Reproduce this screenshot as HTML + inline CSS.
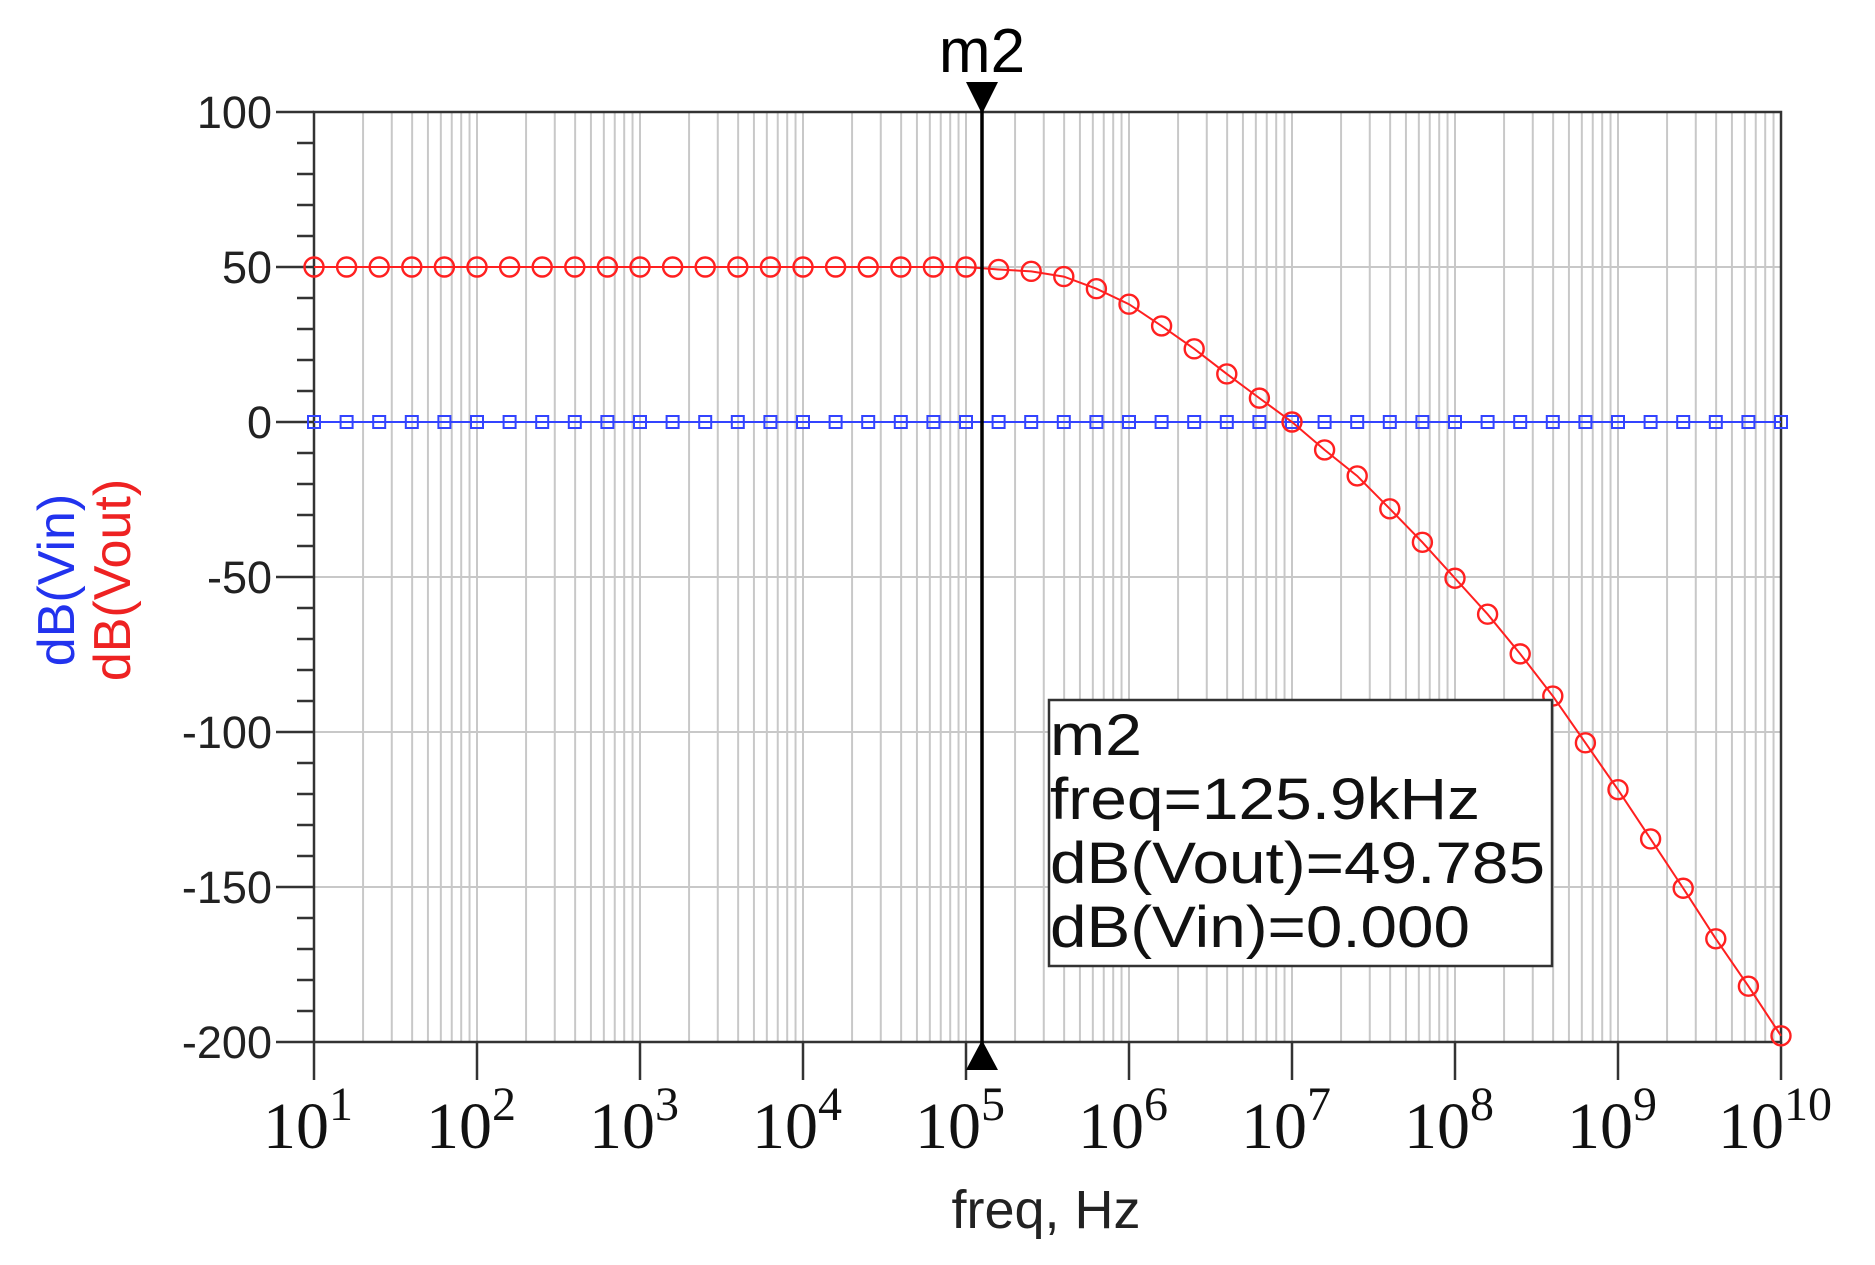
<!DOCTYPE html>
<html><head><meta charset="utf-8"><style>
html,body{margin:0;padding:0;background:#fff;}
svg{display:block;}
</style></head><body>
<svg id="s" width="1875" height="1265" xmlns="http://www.w3.org/2000/svg" font-family="Liberation Sans, sans-serif"></svg>
<script>
const s=document.getElementById('s');
const X0=314,DX=163,Y0=112;
const fx=l=>X0+(l-1)*DX, fy=d=>Y0+(100-d)*3.1;
let h='';
for(let d=1;d<10;d++)for(let m=2;m<=9;m++){const x=fx(d+Math.log10(m));h+=`<line x1="${x}" y1="${Y0}" x2="${x}" y2="${fy(-200)}" stroke="#c8c8c8" stroke-width="2"/>`;}
for(let d=2;d<10;d++){const x=fx(d);h+=`<line x1="${x}" y1="${Y0}" x2="${x}" y2="${fy(-200)}" stroke="#c8c8c8" stroke-width="2"/>`;}
for(let v=50;v>-200;v-=50){h+=`<line x1="${X0}" y1="${fy(v)}" x2="${fx(10)}" y2="${fy(v)}" stroke="#c8c8c8" stroke-width="2"/>`;}
h+=`<rect x="${X0}" y="${Y0}" width="${fx(10)-X0}" height="${fy(-200)-Y0}" fill="none" stroke="#333" stroke-width="2.5"/>`;
for(let v=100;v>=-200;v-=10){const y=fy(v);const maj=v%50==0;h+=`<line x1="${maj?276:297}" y1="${y}" x2="${X0}" y2="${y}" stroke="#333" stroke-width="2.5"/>`;
 if(maj)h+=`<text x="272" y="${y+16}" font-size="45" text-anchor="end" fill="#222">${v}</text>`;}
for(let d=1;d<=10;d++){const x=fx(d);h+=`<line x1="${x}" y1="${fy(-200)}" x2="${x}" y2="1080" stroke="#333" stroke-width="2.5"/>`;
 h+=`<text x="${x-6}" y="1148" font-size="66" text-anchor="middle" font-family="Liberation Serif, serif" fill="#111">10<tspan dy="-28" font-size="48">${d}</tspan></text>`;}
const hi={5.2:49.2,5.4:48.6,5.6:46.9,5.8:43,6:38,6.2:31,6.4:23.6,6.6:15.5,6.8:7.7,7:0,7.2:-9,7.4:-17.4,7.6:-28,7.8:-38.8,8:-50.4,8.2:-62,8.4:-74.8,8.6:-88.4,8.8:-103.5,9:-118.6,9.2:-134.5,9.4:-150.4,9.6:-166.7,9.8:-182,10:-198};
let pr=[],pb=[];
for(let i=0;i<=45;i++){const l=1+i*0.2;const k=Math.round(l*10)/10;const v=(k in hi)?hi[k]:50;pr.push([fx(l),fy(v)]);pb.push([fx(l),fy(0)]);}
h+=`<polyline points="${pb.map(p=>p.join(',')).join(' ')}" fill="none" stroke="#3344ff" stroke-width="2"/>`;
pb.forEach(p=>h+=`<rect x="${p[0]-6}" y="${p[1]-6}" width="12" height="12" fill="none" stroke="#3344ff" stroke-width="2"/>`);
h+=`<polyline points="${pr.map(p=>p.join(',')).join(' ')}" fill="none" stroke="#ff2020" stroke-width="2"/>`;
pr.forEach(p=>h+=`<circle cx="${p[0]}" cy="${p[1]}" r="9.5" fill="none" stroke="#ff2020" stroke-width="2.4"/>`);
const mx=982;
h+=`<line x1="${mx}" y1="95" x2="${mx}" y2="1065" stroke="#000" stroke-width="3.5"/>`;
h+=`<polygon points="${mx-16},82 ${mx+16},82 ${mx},114" fill="#000"/>`;
h+=`<polygon points="${mx-16},1070 ${mx+16},1070 ${mx},1040" fill="#000"/>`;
h+=`<text x="${mx}" y="72" font-size="62" text-anchor="middle" fill="#000">m2</text>`;
h+=`<rect x="1049" y="700" width="503" height="266" fill="#fff" stroke="#333" stroke-width="2.5"/>`;
['m2','freq=125.9kHz','dB(Vout)=49.785','dB(Vin)=0.000'].forEach((t,i)=>h+=`<text x="1050" y="${755+i*64}" font-size="58" textLength="${[92,430,495,420][i]}" lengthAdjust="spacingAndGlyphs" fill="#111">${t}</text>`);
h+=`<text transform="translate(74,580) rotate(-90)" font-size="52" text-anchor="middle" fill="#2233ee">dB(Vin)</text>`;
h+=`<text transform="translate(130,580) rotate(-90)" font-size="52" text-anchor="middle" fill="#ee2222">dB(Vout)</text>`;
h+=`<text x="1046" y="1228" font-size="54" text-anchor="middle" fill="#222">freq, Hz</text>`;
s.innerHTML=h;
</script>
</body></html>
